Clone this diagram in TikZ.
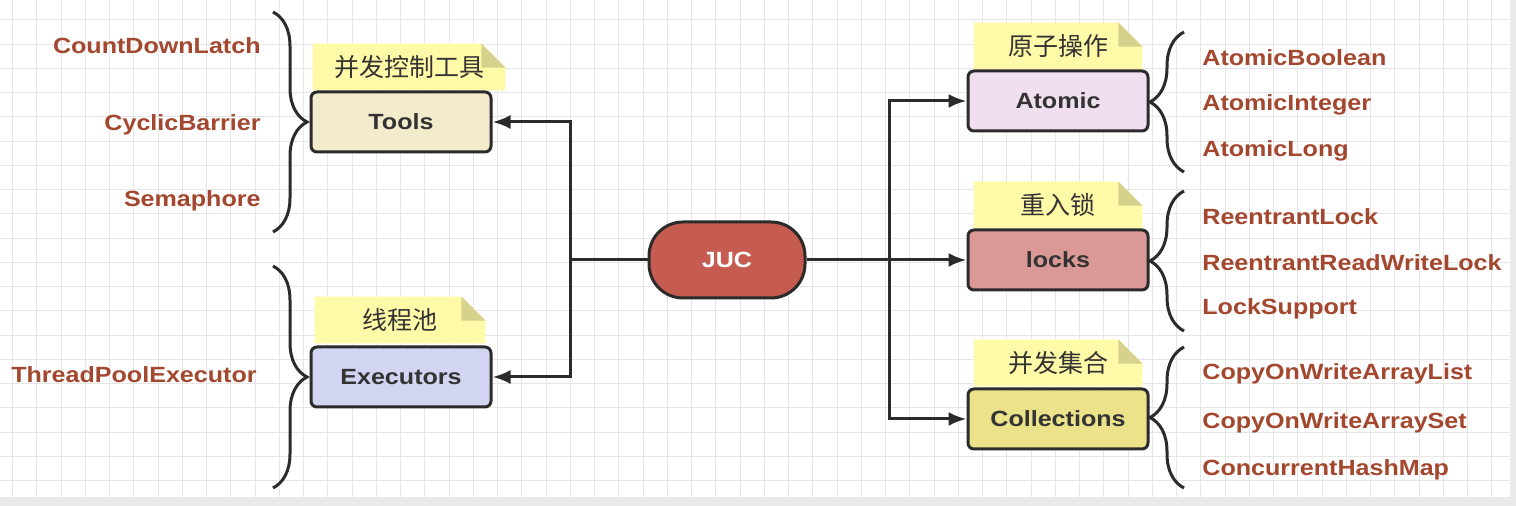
\documentclass[tikz,border=0pt]{standalone}
\usepackage{fontspec}
\setmainfont{Liberation Sans}[FakeStretch=1.14]
\newfontfamily\cjk{Noto Sans CJK SC}
\usetikzlibrary{arrows.meta,decorations.pathreplacing,backgrounds}
\definecolor{linec}{HTML}{2B2B2B}
\definecolor{textc}{HTML}{333333}
\definecolor{itemc}{HTML}{A3472E}
\definecolor{gridc}{HTML}{E6E6E6}
\definecolor{shadowc}{HTML}{EAEAEA}
\definecolor{notec}{HTML}{FFFAA8}
\definecolor{foldc}{HTML}{D6D28E}
\definecolor{toolsc}{HTML}{F2ECCC}
\definecolor{execc}{HTML}{D2D5F1}
\definecolor{jucc}{HTML}{C65B4F}
\definecolor{atomicc}{HTML}{F0DFEE}
\definecolor{locksc}{HTML}{DA9896}
\definecolor{collc}{HTML}{ECE28A}
\tikzset{
    box/.style={draw=linec, line width=1.5pt, rounded corners=3pt, minimum width=90pt, minimum height=30pt,
        font=\fontsize{11}{13}\selectfont\bfseries, text=textc},
    note/.style={minimum height=23pt, inner sep=0pt, font=\cjk\fontsize{12.5}{15}\selectfont, text=textc},
    item/.style={inner sep=0pt, font=\fontsize{11}{13}\selectfont\bfseries, text=itemc},
    link/.style={draw=linec, line width=1.5pt, -{Latex[length=9pt,width=7pt]}},
    bracket/.style={draw=linec, line width=1.5pt, decorate, decoration={brace,amplitude=17pt}},
    gridline/.style={draw=gridc, line width=0.5pt}
}
\begin{document}
\begin{tikzpicture}[x=0.5pt,y=-0.5pt]
\useasboundingbox (0,0) rectangle (1516,506);
\begin{pgfonlayer}{background}
\fill[shadowc] (0,0) rectangle (1516,506);
\fill[white] (0,0) rectangle (1510,497);
\foreach \x in {0,...,61}
{
    \draw[gridline] ({12.5+24.25*\x},0) -- ({12.5+24.25*\x},497);
}
\foreach \y in {0,...,19}
{
    \draw[gridline] (0,{20+24.25*\y}) -- (1510,{20+24.25*\y});
}
\end{pgfonlayer}

% boxes
\node[box, fill=toolsc] (tools) at (401,122) {Tools};
\node[box, fill=execc] (exec) at (401,377) {Executors};
\node[box, fill=jucc, text=white, rounded corners=17pt, minimum width=78pt, minimum height=38pt] (juc) at (727,260) {JUC};
\node[box, fill=atomicc] (atomic) at (1058,101) {Atomic};
\node[box, fill=locksc] (locks) at (1058,260) {locks};
\node[box, fill=collc] (coll) at (1058,419) {Collections};

% notes
\node[note, minimum width=96pt] (nTools) at (409,67) {并发控制工具};
\node[note, minimum width=85pt] (nExec) at (400,320) {线程池};
\node[note, minimum width=84pt] (nAtomic) at (1058,46) {原子操作};
\node[note, minimum width=84pt] (nLocks) at (1058,205) {重入锁};
\node[note, minimum width=84pt] (nColl) at (1058,363) {并发集合};
\begin{pgfonlayer}{background}
\foreach \n in {nTools,nExec,nAtomic,nLocks,nColl}
{
    \fill[notec] (\n.south west) |- ([xshift=-12pt]\n.north east) -- ([yshift=-12pt]\n.north east) |- cycle;
    \fill[foldc] ([xshift=-12pt]\n.north east) -- ([xshift=-12pt,yshift=-12pt]\n.north east) -- ([yshift=-12pt]\n.north east) -- cycle;
}
\end{pgfonlayer}

% connectors
\coordinate (lj) at (570,260);
\coordinate (rj) at (889,260);
\draw[link] (juc.west) -- (lj) |- (tools.east);
\draw[link] (lj) |- (exec.east);
\draw[link] (juc.east) -- (locks.west);
\draw[link] (rj) |- (atomic.west);
\draw[link] (rj) |- (coll.west);

% braces
\draw[bracket] (273,12) -- (273,232);
\draw[bracket] (273,266) -- (273,488);
\draw[bracket] (1184,172) -- (1184,32);
\draw[bracket] (1184,331) -- (1184,191);
\draw[bracket] (1184,488) -- (1184,347);

% classes
\foreach \t/\y in {CountDownLatch/48, CyclicBarrier/125, Semaphore/201}
{
    \node[item, anchor=mid east] (\t) at (261,\y) {\t};
}
\node[item, anchor=mid east] (ThreadPoolExecutor) at (257,377) {ThreadPoolExecutor};
\foreach \t/\y in {AtomicBoolean/60, AtomicInteger/105, AtomicLong/151,
    ReentrantLock/219, ReentrantReadWriteLock/265, LockSupport/309,
    CopyOnWriteArrayList/374, CopyOnWriteArraySet/423, ConcurrentHashMap/470}
{
    \node[item, anchor=mid west] (\t) at (1202,\y) {\t};
}
\end{tikzpicture}
\end{document}
